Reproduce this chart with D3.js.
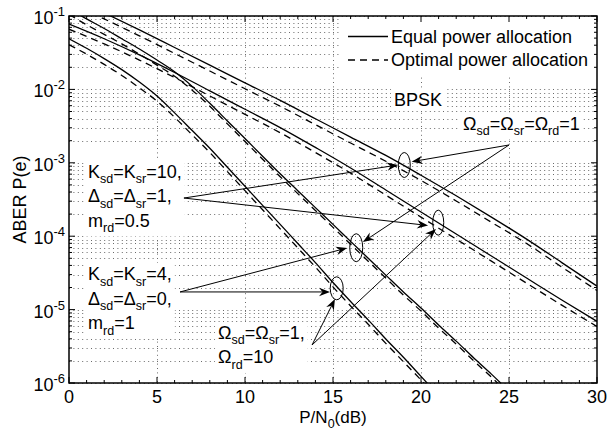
<!DOCTYPE html>
<html><head><meta charset="utf-8">
<script src="https://cdn.jsdelivr.net/npm/d3@7"></script>
<style>
body{margin:0;background:#fff}
svg{display:block}
text{font-family:"Liberation Sans",Arial,Helvetica,sans-serif;fill:#000}
</style>
</head><body>
<svg id="chart" width="608" height="434"></svg>
<script>
// ---------- data ----------
const xTickLabels = ["0","5","10","15","20","25","30"];
const xTickValues = [0,5,10,15,20,25,30];
const yTickExponents = [-1,-2,-3,-4,-5,-6];

// Curve A: K=10, Delta=1, m=0.5, Omega all 1
const snrA = [0,2,4,6,8,10,12,14,16,18,20,22,24,26,28,30];
const aberA_equal   = [0.182,0.110,0.0646,0.0372,0.0214,0.0123,7.08e-3,3.98e-3,2.24e-3,1.26e-3,6.76e-4,3.55e-4,1.82e-4,9.12e-5,4.37e-5,2.09e-5];
const aberA_optimal = [0.151,0.0912,0.0537,0.0309,0.0178,0.0102,5.89e-3,3.31e-3,1.86e-3,1.05e-3,5.75e-4,3.02e-4,1.55e-4,7.94e-5,3.80e-5,1.82e-5];

// Curve B: K=10, Delta=1, m=0.5, Omega_rd=10
const snrB = [0,2,4,6,8,10,12,14,16,18,20,22,24,26,28,30];
const aberB_equal   = [0.0776,0.0490,0.0295,0.0170,9.55e-3,5.37e-3,3.02e-3,1.62e-3,8.51e-4,4.27e-4,2.14e-4,1.07e-4,5.37e-5,2.69e-5,1.35e-5,6.92e-6];
const aberB_optimal = [0.0661,0.0417,0.0251,0.0145,8.13e-3,4.57e-3,2.57e-3,1.38e-3,7.24e-4,3.63e-4,1.82e-4,9.12e-5,4.57e-5,2.29e-5,1.15e-5,5.89e-6];

// Curve C: K=4, Delta=0, m=1, Omega all 1
const snrC = [0,1,2,3,4,5,6,7,8,9,10,11,12,13,14,15,16,17,18,19,20,21,22,23,24,25];
const aberC_equal   = [0.126,0.0912,0.0676,0.0490,0.0355,0.0251,0.0174,0.0110,6.46e-3,3.72e-3,2.14e-3,1.23e-3,7.08e-4,4.17e-4,2.45e-4,1.45e-4,8.51e-5,5.01e-5,2.95e-5,1.74e-5,1.05e-5,6.17e-6,3.72e-6,2.19e-6,1.32e-6,7.76e-7];
const aberC_optimal = [0.105,0.0759,0.0562,0.0417,0.0302,0.0214,0.0151,9.77e-3,5.89e-3,3.39e-3,1.95e-3,1.12e-3,6.46e-4,3.80e-4,2.24e-4,1.32e-4,7.76e-5,4.57e-5,2.69e-5,1.58e-5,9.55e-6,5.62e-6,3.39e-6,2.00e-6,1.20e-6,7.08e-7];

// Curve D: K=4, Delta=0, m=1, Omega_rd=10
const snrD = [0,1,2,3,4,5,6,7,8,9,10,11,12,13,14,15,16,17,18,19,20,21];
const aberD_equal   = [0.0490,0.0363,0.0263,0.0186,0.0126,8.13e-3,4.79e-3,2.75e-3,1.58e-3,8.71e-4,4.79e-4,2.63e-4,1.45e-4,7.94e-5,4.37e-5,2.34e-5,1.29e-5,7.24e-6,3.98e-6,2.24e-6,1.23e-6,6.76e-7];
const aberD_optimal = [0.0407,0.0302,0.0219,0.0155,0.0105,6.92e-3,4.17e-3,2.40e-3,1.38e-3,7.59e-4,4.17e-4,2.29e-4,1.26e-4,6.92e-5,3.80e-5,2.04e-5,1.12e-5,6.31e-6,3.47e-6,1.95e-6,1.10e-6,6.03e-7];

const legendLabels = ["Equal power allocation","Optimal power allocation"];

// ellipse markers [snr, aber]
const ellipseCenters = [[19.05,9.33e-4],[20.98,1.53e-4],[16.32,6.97e-5],[15.21,1.95e-5]];

// arrows [fromSnr, fromAber, toSnr, toAber]
const arrows = [
  [25.0,1.748e-3, 19.47,1.035e-3],
  [25.0,1.748e-3, 16.70,8.34e-5],
  [6.53,3.31e-4, 18.69,9.33e-4],
  [6.53,3.31e-4, 20.40,1.40e-4],
  [6.31,1.74e-5, 15.80,6.90e-5],
  [6.31,1.74e-5, 14.83,1.74e-5],
  [13.81,3.30e-6, 15.11,1.39e-5],
  [13.81,3.30e-6, 20.85,1.25e-4]
];

// text annotations: position [snr, aber] + lines of [text, isSubscript]
const annotations = [
  {at:[1.08,6.21e-4], lines:[
    [["K"],["sd",1],["=K"],["sr",1],["=10,"]],
    [["\u0394"],["sd",1],["=\u0394"],["sr",1],["=1,"]],
    [["m"],["rd",1],["=0.5"]]]},
  {at:[1.08,2.53e-5], lines:[
    [["K"],["sd",1],["=K"],["sr",1],["=4,"]],
    [["\u0394"],["sd",1],["=\u0394"],["sr",1],["=0,"]],
    [["m"],["rd",1],["=1"]]]},
  {at:[8.47,3.98e-6], lines:[
    [["\u03A9"],["sd",1],["=\u03A9"],["sr",1],["=1,"]],
    [["\u03A9"],["rd",1],["=10"]]]},
  {at:[22.39,2.80e-3], lines:[
    [["\u03A9"],["sd",1],["=\u03A9"],["sr",1],["=\u03A9"],["rd",1],["=1"]]]},
  {at:[18.47,5.94e-3], lines:[[["BPSK"]]]}
];

// ---------- layout ----------
const W = 608, H = 434;
const m = {left:69, top:16, right:11, bottom:51};
const svg = d3.select("#chart");
const x = d3.scaleLinear().domain([0,30]).range([m.left, W - m.right]);
const y = d3.scaleLog().domain([1e-6,1e-1]).range([H - m.bottom, m.top]);
const x0 = x.range()[0], x1 = x.range()[1], yb = y.range()[0], yt = y.range()[1];

svg.append("defs").append("clipPath").attr("id","plotclip")
  .append("rect").attr("x",x0).attr("y",yt).attr("width",x1-x0).attr("height",yb-yt);

// grid
const gGrid = svg.append("g").attr("stroke","#6a6a6a").attr("stroke-width",1).attr("stroke-dasharray","1,3.4");
y.ticks().forEach(v => {
  const yy = Math.round(y(v)) + 0.5;
  gGrid.append("line").attr("x1",x0).attr("x2",x1).attr("y1",yy).attr("y2",yy);
});
xTickValues.slice(1,-1).forEach(v => {
  const xx = Math.round(x(v)) + 0.5;
  gGrid.append("line").attr("x1",xx).attr("x2",xx).attr("y1",yt).attr("y2",yb);
});

const gBoxes = svg.append("g");
const gCurves = svg.append("g").attr("clip-path","url(#plotclip)");
const gAnn = svg.append("g");

// curves
const line = d3.line().curve(d3.curveMonotoneX).x(d => x(d[0])).y(d => y(d[1]));
const series = [
  [snrA, aberA_equal, aberA_optimal],
  [snrB, aberB_equal, aberB_optimal],
  [snrC, aberC_equal, aberC_optimal],
  [snrD, aberD_equal, aberD_optimal]
];
series.forEach(([s, eq, op]) => {
  gCurves.append("path").attr("d", line(s.map((v,i)=>[v,eq[i]])))
    .attr("fill","none").attr("stroke","#000").attr("stroke-width",1.3);
  gCurves.append("path").attr("d", line(s.map((v,i)=>[v,op[i]])))
    .attr("fill","none").attr("stroke","#000").attr("stroke-width",1.3).attr("stroke-dasharray","7,5");
});

// ellipses
const ellR = [[6,12.5],[5.5,12.5],[6.5,14],[6.5,11.5]];
ellipseCenters.forEach((c,i) => {
  gAnn.append("ellipse").attr("cx",x(c[0])).attr("cy",y(c[1]))
    .attr("rx",ellR[i][0]).attr("ry",ellR[i][1])
    .attr("fill","none").attr("stroke","#000").attr("stroke-width",1);
});

// arrows
arrows.forEach(a => {
  const fx = x(a[0]), fy = y(a[1]), tx = x(a[2]), ty = y(a[3]);
  const dx = tx-fx, dy = ty-fy, L = Math.hypot(dx,dy);
  const ux = dx/L, uy = dy/L, nx = -uy, ny = ux;
  const hl = 11, hw = 4.2, notch = 3.5;
  gAnn.append("line").attr("x1",fx).attr("y1",fy)
    .attr("x2",tx - ux*(hl-notch)).attr("y2",ty - uy*(hl-notch))
    .attr("stroke","#000").attr("stroke-width",1);
  const p = [
    [tx,ty],
    [tx - ux*hl + nx*hw, ty - uy*hl + ny*hw],
    [tx - ux*(hl-notch), ty - uy*(hl-notch)],
    [tx - ux*hl - nx*hw, ty - uy*hl - ny*hw]
  ];
  gAnn.append("path").attr("d","M"+p.map(q=>q.join(",")).join("L")+"Z").attr("fill","#000");
});

// text annotations (one text element per block) with white background boxes
const lineGap = 24.5, subDy = 5.5, mainSize = 18, subSize = 12.5;
annotations.forEach(a => {
  const px = x(a.at[0]), py = y(a.at[1]);
  const t = svg.append("text").attr("x",px).attr("y",py).attr("font-size",mainSize);
  a.lines.forEach((ln,li) => {
    let sub = false;
    ln.forEach((s,si) => {
      const isSub = !!s[1];
      const ts = t.append("tspan").text(s[0]);
      let d = 0;
      if (si === 0 && li > 0) { ts.attr("x",px); d += lineGap; }
      if (isSub && !sub) d += subDy;
      if (!isSub && sub) d -= subDy;
      if (d !== 0) ts.attr("dy",d);
      if (isSub) ts.attr("font-size",subSize);
      sub = isSub;
    });
  });
  const bb = t.node().getBBox();
  gBoxes.append("rect").attr("x",bb.x-3).attr("y",bb.y-1).attr("width",bb.width+6).attr("height",bb.height+2).attr("fill","#fff");
});

// legend
const gLeg = svg.append("g");
gBoxes.append("rect").attr("x",339).attr("y",yt+1).attr("width",x1-340).attr("height",58).attr("fill","#fff");
[[36.5,43,null],[60,66,"7,5"]].forEach((r,i) => {
  const l = gLeg.append("line").attr("x1",348).attr("x2",388).attr("y1",r[0]).attr("y2",r[0])
    .attr("stroke","#000").attr("stroke-width",1.3);
  if (r[2]) l.attr("stroke-dasharray",r[2]);
  gLeg.append("text").attr("x",391).attr("y",r[1]).attr("font-size",18).text(legendLabels[i]);
});

// axes frame and ticks
const gAx = svg.append("g").attr("stroke","#000");
gAx.append("rect").attr("x",x0).attr("y",yt).attr("width",x1-x0).attr("height",yb-yt)
  .attr("fill","none").attr("stroke-width",1.5);
d3.range(0,31,1).forEach(v => {
  const xx = x(v), len = (v % 5 === 0) ? 6 : 3;
  gAx.append("line").attr("x1",xx).attr("x2",xx).attr("y1",yb).attr("y2",yb-len).attr("stroke-width",1);
  gAx.append("line").attr("x1",xx).attr("x2",xx).attr("y1",yt).attr("y2",yt+len).attr("stroke-width",1);
});
y.ticks().forEach(v => {
  const yy = y(v);
  const major = Math.abs(Math.log10(v) - Math.round(Math.log10(v))) < 1e-6;
  const len = major ? 6 : 3;
  gAx.append("line").attr("x1",x0).attr("x2",x0+len).attr("y1",yy).attr("y2",yy).attr("stroke-width",1);
  gAx.append("line").attr("x1",x1).attr("x2",x1-len).attr("y1",yy).attr("y2",yy).attr("stroke-width",1);
});

// tick labels
xTickValues.forEach((v,i) => {
  svg.append("text").attr("x",x(v)).attr("y",yb+20).attr("text-anchor","middle")
    .attr("font-size",18).text(xTickLabels[i]);
});
yTickExponents.forEach(e => {
  const t = svg.append("text").attr("x",x0-4).attr("y",y(Math.pow(10,e))+8)
    .attr("text-anchor","end").attr("font-size",18);
  t.append("tspan").text("10");
  t.append("tspan").attr("dy",-8).attr("font-size",13).text(String(e));
});

// axis labels
const xl = svg.append("text").attr("x",(x0+x1)/2).attr("y",422.5).attr("text-anchor","middle").attr("font-size",17);
xl.append("tspan").text("P/N");
xl.append("tspan").attr("dy",5).attr("font-size",12.5).text("0");
xl.append("tspan").attr("dy",-5).text("(dB)");
svg.append("text").attr("transform",`translate(26,${(yt+yb)/2}) rotate(-90)`)
  .attr("text-anchor","middle").attr("font-size",18).text("ABER P(e)");
</script>
</body></html>
